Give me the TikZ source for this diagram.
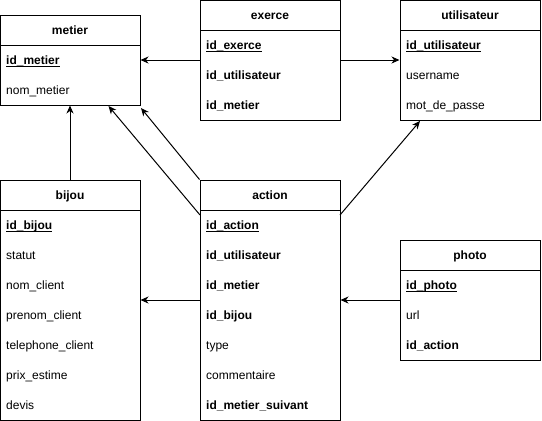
\documentclass[tikz,border=0pt]{standalone}
\usepackage{fontspec}
\setmainfont{Liberation Sans}
\usetikzlibrary{arrows.meta}
\tikzset{
  tbl/.style={draw, line width=1pt, minimum width=140pt, inner sep=0pt, fill=white},
  hdr/.style={font=\fontsize{12}{14}\selectfont\bfseries, anchor=base, inner sep=0pt},
  fld/.style={font=\fontsize{12}{14}\selectfont, anchor=base west, inner sep=0pt},
  key/.style={fld, font=\fontsize{12}{14}\selectfont\bfseries},
  conn/.style={draw, line width=1pt, -{Stealth[length=8pt, width=7pt, inset=2.5pt]}},
}
\newcommand{\pk}[1]{\setbox0\hbox{#1}\rlap{\rule[-2.6pt]{\wd0}{0.9pt}}\box0}
\begin{document}
\begin{tikzpicture}[x=1pt, y=-1pt]
\useasboundingbox (0,0) rectangle (542,421);
% metier
\node[tbl, minimum height=90pt] (metier) at (70,60) {};
\draw[line width=1pt] (0,45) -- (140,45);
\node[hdr] (metierh) at (70,34.3) {metier};
\node[key] (metier1) at (6,64.3) {\pk{id\_metier}};
\node[fld] (metier2) at (6,94.3) {nom\_metier};
% exerce
\node[tbl, minimum height=120pt] (exerce) at (270,60) {};
\draw[line width=1pt] (200,30) -- (340,30);
\node[hdr] (exerceh) at (270,19.3) {exerce};
\node[key] (exerce1) at (206,49.3) {\pk{id\_exerce}};
\node[key] (exerce2) at (206,79.3) {id\_utilisateur};
\node[key] (exerce3) at (206,109.3) {id\_metier};
% utilisateur
\node[tbl, minimum height=120pt] (utilisateur) at (470,60) {};
\draw[line width=1pt] (400,30) -- (540,30);
\node[hdr] (utilh) at (470,19.3) {utilisateur};
\node[key] (util1) at (406,49.3) {\pk{id\_utilisateur}};
\node[fld] (util2) at (406,79.3) {username};
\node[fld] (util3) at (406,109.3) {mot\_de\_passe};
% bijou
\node[tbl, minimum height=240pt] (bijou) at (70,300) {};
\draw[line width=1pt] (0,210) -- (140,210);
\node[hdr] (bijouh) at (70,199.3) {bijou};
\node[key] (bijou1) at (6,229.3) {\pk{id\_bijou}};
\node[fld] (bijou2) at (6,259.3) {statut};
\node[fld] (bijou3) at (6,289.3) {nom\_client};
\node[fld] (bijou4) at (6,319.3) {prenom\_client};
\node[fld] (bijou5) at (6,349.3) {telephone\_client};
\node[fld] (bijou6) at (6,379.3) {prix\_estime};
\node[fld] (bijou7) at (6,409.3) {devis};
% action
\node[tbl, minimum height=240pt] (action) at (270,300) {};
\draw[line width=1pt] (200,210) -- (340,210);
\node[hdr] (actionh) at (270,199.3) {action};
\node[key] (action1) at (206,229.3) {\pk{id\_action}};
\node[key] (action2) at (206,259.3) {id\_utilisateur};
\node[key] (action3) at (206,289.3) {id\_metier};
\node[key] (action4) at (206,319.3) {id\_bijou};
\node[fld] (action5) at (206,349.3) {type};
\node[fld] (action6) at (206,379.3) {commentaire};
\node[key] (action7) at (206,409.3) {id\_metier\_suivant};
% photo
\node[tbl, minimum height=120pt] (photo) at (470,300) {};
\draw[line width=1pt] (400,270) -- (540,270);
\node[hdr] (photoh) at (470,259.3) {photo};
\node[key] (photo1) at (406,289.3) {\pk{id\_photo}};
\node[fld] (photo2) at (406,319.3) {url};
\node[key] (photo3) at (406,349.3) {id\_action};
% connector end points
\coordinate (aw) at (200,215);
\coordinate (ae) at (340,215);
\coordinate (mA) at (108.5,106);
\coordinate (mB) at (141,108);
\coordinate (uS) at (420,121);
% connectors
\draw[conn] (exerce.west) -- (metier.east);
\draw[conn] (exerce.east) -- (utilisateur.west);
\draw[conn] (bijou.north) -- (metier.south);
\draw[conn] (aw) -- (mA);
\draw[conn] (action.north west) -- (mB);
\draw[conn] (ae) -- (uS);
\draw[conn] (action.west) -- (bijou.east);
\draw[conn] (photo.west) -- (action.east);
\end{tikzpicture}
\end{document}
